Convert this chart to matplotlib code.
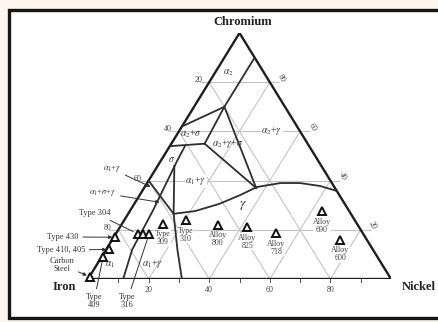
import numpy as np
import matplotlib
matplotlib.use('Agg')
import matplotlib.pyplot as plt
from matplotlib.patches import Rectangle
from matplotlib.lines import Line2D

plt.rcParams['font.family'] = ['Liberation Serif', 'DejaVu Serif']
plt.rcParams['mathtext.fontset'] = 'stix'

W, H = 438, 322

# grid levels in wt.% (every 20 %)
grid_levels = [20, 40, 60, 80]
ni_ticks = [10, 20, 30, 40, 50, 60, 70, 80, 90]

# phase boundaries, each as Cr / Ni wt.%
a2_cr = [90, 70, 55]            # alpha2 | alpha2+gamma, continues to the 3-phase corner
a2_ni = [10, 10, 11]
a2s_cr = [70, 62]               # alpha2 | alpha2+sigma
a2s_ni = [10, 0]
p1p2_cr = [70, 37]              # alpha2+gamma | alpha2+gamma+sigma
p1p2_ni = [10, 37]
jp2_cr = [55, 37]               # alpha2+gamma+sigma | alpha1+gamma
jp2_ni = [11, 37]
sig_top_cr = [55, 54]           # top of sigma
sig_top_ni = [11, 0]
sig_cr = [54, 48, 28, 12, 0]    # sigma / alpha1 band
sig_ni = [5, 5.4, 7.5, 8.6, 11.6]
vert_cr = [46, 26.5, 12, 0]     # alpha1+gamma | gamma (lower left)
vert_ni = [5.5, 15, 23.5, 31]
a1s_cr = [40, 26.5]             # alpha1+sigma+gamma
a1s_ni = [0, 15]
gam_cr = [26.5, 27.6, 30.5, 34, 37.4, 39, 39, 37.8, 35.8]   # gamma boundary
gam_ni = [15, 21.5, 28, 33, 37.1, 44, 50.5, 57.7, 64.2]

# alloys
steel_names = ['Carbon Steel', 'Type 409', 'Type 410, 405', 'Type 430',
               'Type 304', 'Type 304L', 'Type 316', 'Type 309', 'Type 310',
               'Alloy 800', 'Alloy 825', 'Alloy 718', 'Alloy 690', 'Alloy 600']
steel_cr = [1, 9, 12, 17, 18.3, 18.3, 18.3, 22.4, 24, 22, 21.1, 18.7, 27.6, 15.9]
steel_ni = [0, 0.5, 1, 0.5, 7.4, 9, 11, 13.5, 20.3, 31.9, 42, 52.7, 63.4, 75.3]


def tern(cr, ni):
    cr = np.asarray(cr, float)
    ni = np.asarray(ni, float)
    return ni / 100 + cr / 200, cr / 100


def ftext(px, py, s, **kw):
    kw.setdefault('ha', 'center')
    kw.setdefault('va', 'center')
    fig.text(px / W, 1 - py / H, s, **kw)


fig = plt.figure(figsize=(W / 100, H / 100), dpi=100)
fig.patch.set_facecolor('#fcf6ee')

# white panel with a black border on the left, top and bottom only
left, top, bottom = 9 / W, 1 - 10 / H, 4 / H
fig.add_artist(Rectangle((left, bottom), 1.2, top - bottom, transform=fig.transFigure,
                         fc='white', ec='none', zorder=-2))
fig.add_artist(Line2D([1.2, left, left, 1.2], [top, top, bottom, bottom],
                      transform=fig.transFigure, color='#151515', lw=2.4,
                      solid_joinstyle='miter', zorder=-1))

ax = fig.add_axes([88 / W, (H - 279) / H, 303 / W, 246 / H])
ax.set_xlim(0, 1)
ax.set_ylim(0, 1)
ax.axis('off')

gcol = '#c4c4c4'
ext = 3.0
for v in grid_levels:
    # constant Cr
    x, y = tern([v, v], [-ext, 100 - v + ext])
    ax.plot(x, y, color=gcol, lw=0.8, zorder=1, clip_on=False)
    # constant Ni
    x, y = tern([0, 100 - v], [v, v])
    ax.plot(x, y, color=gcol, lw=0.8, zorder=1)
    # constant Fe
    x, y = tern([0, 100 - v], [100 - v, 0])
    ax.plot(x, y, color=gcol, lw=0.8, zorder=1)

for t in ni_ticks:
    x, y = tern(0, t)
    ax.plot([x, x], [0, -0.012], color='#555', lw=0.7, clip_on=False)

# triangle
x, y = tern([0, 0, 100, 0], [0, 100, 0, 0])
ax.plot(x, y, color='#1e1e1e', lw=1.7, zorder=3, solid_joinstyle='miter')

lcol = '#2e2e2e'
for cr, ni in [(a2_cr, a2_ni), (a2s_cr, a2s_ni), (p1p2_cr, p1p2_ni), (jp2_cr, jp2_ni),
               (sig_top_cr, sig_top_ni), (sig_cr, sig_ni), (vert_cr, vert_ni),
               (a1s_cr, a1s_ni), (gam_cr, gam_ni)]:
    x, y = tern(cr, ni)
    ax.plot(x, y, color=lcol, lw=1.3, zorder=3)

# axis numbers
for v in grid_levels:
    x, y = tern(v, 0)
    ax.annotate(str(100 - v), (x, y), xytext=(-8, 1.5), textcoords='offset points',
                ha='center', va='center', fontsize=5.8, color='#444')
    x, y = tern(v, 100 - v)
    ax.annotate(str(v), (x, y), xytext=(8.5, 3), textcoords='offset points',
                ha='center', va='center', fontsize=5.8, color='#444', rotation=-60)
    x, y = tern(0, v)
    ax.annotate(str(v), (x, y), xytext=(0, -8), textcoords='offset points',
                ha='center', va='center', fontsize=5.8, color='#444')

# alloy markers
sx, sy = tern(steel_cr, steel_ni)
ax.plot(sx, sy, '^', ms=5.8, mfc='white', mec='#111', mew=1.4, zorder=5, clip_on=False)

lab_kw = dict(ha='center', va='center', fontsize=5.8, color='#444', linespacing=1.0,
              bbox=dict(fc='white', ec='none', pad=0.2))
for i, name in enumerate(steel_names):
    if name.startswith('Alloy') or name in ('Type 309', 'Type 310'):
        ax.annotate(name.replace(' ', '\n'), (sx[i], sy[i]), xytext=(0, -10.5),
                    textcoords='offset points', zorder=4, **lab_kw)

arr = dict(arrowstyle='-|>', lw=0.7, color='#333', shrinkA=1, shrinkB=2, mutation_scale=5)
line = dict(arrowstyle='-', lw=0.7, color='#333', shrinkA=1, shrinkB=4)
ann_kw = dict(textcoords='figure pixels', ha='center', va='center', fontsize=6, color='#333')
idx = {n: i for i, n in enumerate(steel_names)}
ax.annotate('Type 430', (sx[idx['Type 430']], sy[idx['Type 430']]), xytext=(63, H - 237),
            arrowprops=arr, **ann_kw)
ax.annotate('Type 410, 405', (sx[idx['Type 410, 405']], sy[idx['Type 410, 405']]),
            xytext=(61, H - 250), arrowprops=arr, **ann_kw)
ax.annotate('Carbon\nSteel', (sx[idx['Carbon Steel']], sy[idx['Carbon Steel']]),
            xytext=(62, H - 265), arrowprops=arr, linespacing=1.0, **ann_kw)
ax.annotate('Type 304', (sx[idx['Type 304']], sy[idx['Type 304']]), xytext=(95, H - 213),
            arrowprops=line, **ann_kw)
ax.annotate('Type\n409', (sx[idx['Type 409']], sy[idx['Type 409']]), xytext=(94, H - 301),
            arrowprops=line, linespacing=1.0, **ann_kw)
ax.annotate('Type\n316', (sx[idx['Type 316']], sy[idx['Type 316']]), xytext=(127, H - 301),
            arrowprops=line, linespacing=1.0, **ann_kw)
ax.annotate(r'$\alpha_1$+$\gamma$', tern(37, 3), xytext=(112, H - 169),
            arrowprops=arr, **ann_kw)
ax.annotate(r'$\alpha_1$+$\sigma$+$\gamma$', tern(31, 9), xytext=(103, H - 193),
            arrowprops=arr, **ann_kw)

# phase field labels
reg = dict(fontsize=7, color='#333')
ftext(228, 73, r'$\alpha_2$', **reg)
ftext(272, 131, r'$\alpha_2$+$\gamma$', bbox=dict(fc='white', ec='none', pad=0.5), **reg)
ftext(191, 134, r'$\alpha_2$+$\sigma$', **reg)
ftext(228, 144, r'$\alpha_2$+$\gamma$+$\sigma$', **reg)
ftext(172, 159, r'$\sigma$', **reg)
ftext(196, 181, r'$\alpha_1$+$\gamma$', bbox=dict(fc='white', ec='none', pad=0.5), **reg)
ftext(243, 206, r'$\gamma$', fontsize=9.5, color='#333')
ftext(110, 265, r'$\alpha_1$', **reg)
ftext(153, 264, r'$\alpha_1$+$\gamma$', **reg)

# corner names
ftext(243, 22, 'Chromium', fontsize=9, fontweight='bold', color='#222')
ftext(64, 287, 'Iron', fontsize=9, fontweight='bold', color='#222')
ftext(419, 287, 'Nickel', fontsize=9, fontweight='bold', color='#222')

fig.savefig('out.png', dpi=100, facecolor=fig.get_facecolor())
